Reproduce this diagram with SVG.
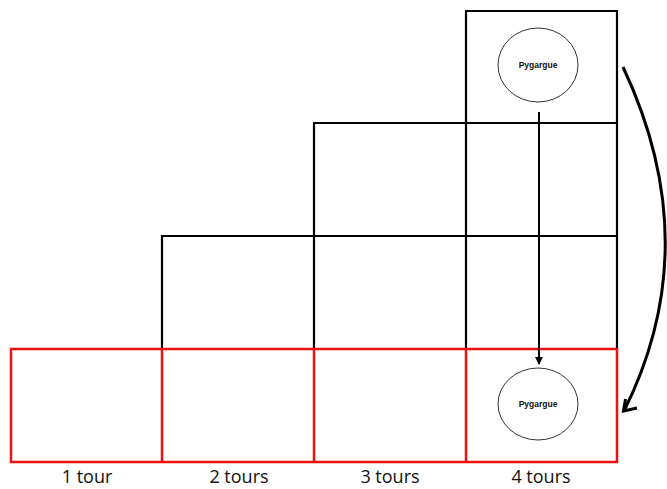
<svg xmlns="http://www.w3.org/2000/svg" width="667" height="489" viewBox="0 0 667 489">
<style>
.blk{fill:none;stroke:#000;stroke-width:2.2}
.red{fill:none;stroke:#ee1111;stroke-width:2.5}
.ell{fill:#fff;stroke:#333;stroke-width:1}
.nm{font-family:"Liberation Sans",Arial,sans-serif;font-size:8.5px;font-weight:bold;text-anchor:middle;fill:#111}
.lb{font-family:"Open Sans","Liberation Sans",sans-serif;font-size:18px;text-anchor:middle;fill:#111}
</style>
<defs>
<marker id="ah" markerWidth="8" markerHeight="8" refX="7" refY="4" orient="auto" markerUnits="userSpaceOnUse">
<path d="M0,0 L8,4 L0,8 Z" fill="#000"/>
</marker>
</defs>
<rect width="667" height="489" fill="#fff"/>
<g id="grid">
<path class="blk" d="M466,349 V11 H617 V349"/>
<path class="blk" d="M314,349 V123 H617"/>
<path class="blk" d="M162,349 V236 H617"/>
</g>
<g id="row-red">
<rect class="red" x="11" y="349" width="606" height="113"/>
<path class="red" d="M162,349 V462 M314,349 V462 M466,349 V462"/>
</g>
<g id="node-top">
<ellipse class="ell" cx="538" cy="65" rx="40" ry="37"/>
<text class="nm" x="538" y="68">Pygargue</text>
</g>
<g id="node-bottom">
<ellipse class="ell" cx="538" cy="404" rx="40" ry="36"/>
<text class="nm" x="538" y="407">Pygargue</text>
</g>
<g id="connectors">
<line x1="539" y1="112" x2="539" y2="364" stroke="#000" stroke-width="2" marker-end="url(#ah)"/>
<path d="M623,67 Q707,245 624,411" fill="none" stroke="#000" stroke-width="3"/>
<path d="M625.5,399 L623.5,411 L637,408" fill="none" stroke="#000" stroke-width="3" stroke-linejoin="miter"/>
</g>
<g id="labels">
<text class="lb" x="87" y="483">1 tour</text>
<text class="lb" x="239" y="483">2 tours</text>
<text class="lb" x="390" y="483">3 tours</text>
<text class="lb" x="541" y="483">4 tours</text>
</g>
</svg>
